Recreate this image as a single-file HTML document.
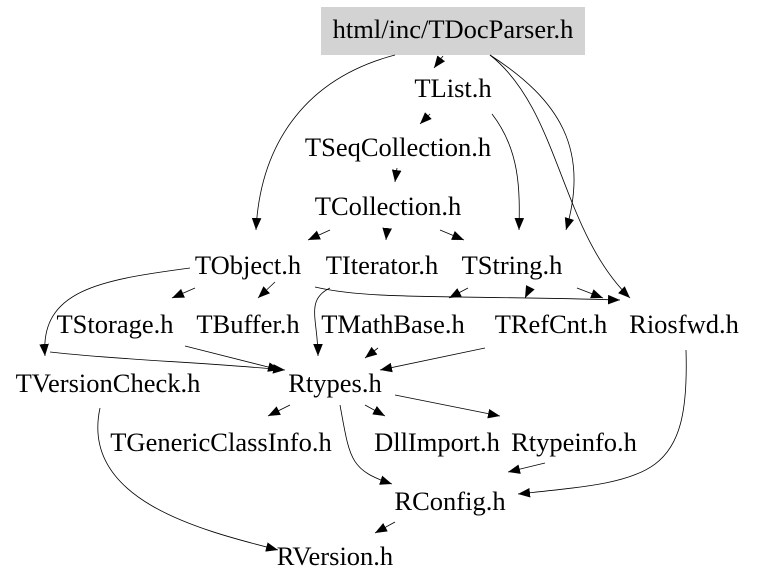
<!DOCTYPE html>
<html><head><meta charset="utf-8"><style>html,body{margin:0;padding:0;background:#fff}svg{display:block}text{font-family:"Liberation Serif",serif;font-size:26.5px;fill:#000;text-anchor:middle}</style></head><body>
<svg width="757" height="587" viewBox="0 0 757 587" xmlns="http://www.w3.org/2000/svg">
<defs><marker id="a" viewBox="0 0 10 10" refX="10" refY="5" markerWidth="12" markerHeight="12" markerUnits="userSpaceOnUse" orient="auto"><path d="M0,1 L10,5 L0,9 z" fill="#000"/></marker></defs>
<rect x="321" y="7" width="264" height="48" fill="#d3d3d3"/>
<g fill="none" stroke="#000" stroke-width="0.8" marker-end="url(#a)">
<path d="M443,56 L434,68"/>
<path d="M395,55 C300,80 260,150 256,230"/>
<path d="M490,55 C560,100 590,150 566,230"/>
<path d="M490,55 C560,110 560,230 630,298"/>
<path d="M430,114 L420,124"/>
<path d="M492,114 C520,150 520,190 519,230"/>
<path d="M397,168 L395,182"/>
<path d="M330,230 L308,240"/>
<path d="M387,230 L386,240"/>
<path d="M440,230 L464,240"/>
<path d="M190,268 C100,280 40,290 45,356"/>
<path d="M195,288 L172,298"/>
<path d="M275,282 L258,298"/>
<path d="M315,287 C370,300 450,295 620,300"/>
<path d="M330,288 C305,300 318,320 318,356"/>
<path d="M468,288 L449,298"/>
<path d="M530,288 L525,298"/>
<path d="M577,288 L603,298"/>
<path d="M185,346 L280,370"/>
<path d="M50,352 C120,360 200,362 285,370"/>
<path d="M378,348 L365,358"/>
<path d="M485,348 L380,370"/>
<path d="M686,350 C690,480 650,480 518,494"/>
<path d="M290,405 L268,416"/>
<path d="M365,405 L385,416"/>
<path d="M395,395 L500,416"/>
<path d="M340,405 C350,460 350,470 392,484"/>
<path d="M545,463 L508,472"/>
<path d="M100,408 C80,500 200,530 278,550"/>
<path d="M395,522 L375,533"/>
</g>
<text x="453" y="38">html/inc/TDocParser.h</text>
<text x="453" y="97">TList.h</text>
<text x="398" y="156">TSeqCollection.h</text>
<text x="388" y="215">TCollection.h</text>
<text x="248" y="274">TObject.h</text>
<text x="382" y="274">TIterator.h</text>
<text x="512" y="274">TString.h</text>
<text x="115" y="333">TStorage.h</text>
<text x="248" y="333">TBuffer.h</text>
<text x="393" y="333">TMathBase.h</text>
<text x="551" y="333">TRefCnt.h</text>
<text x="684" y="333">Riosfwd.h</text>
<text x="108" y="392">TVersionCheck.h</text>
<text x="335" y="392">Rtypes.h</text>
<text x="221" y="451">TGenericClassInfo.h</text>
<text x="437" y="451">DllImport.h</text>
<text x="574" y="451">Rtypeinfo.h</text>
<text x="450" y="510">RConfig.h</text>
<text x="335" y="565">RVersion.h</text>
</svg>
</body></html>
